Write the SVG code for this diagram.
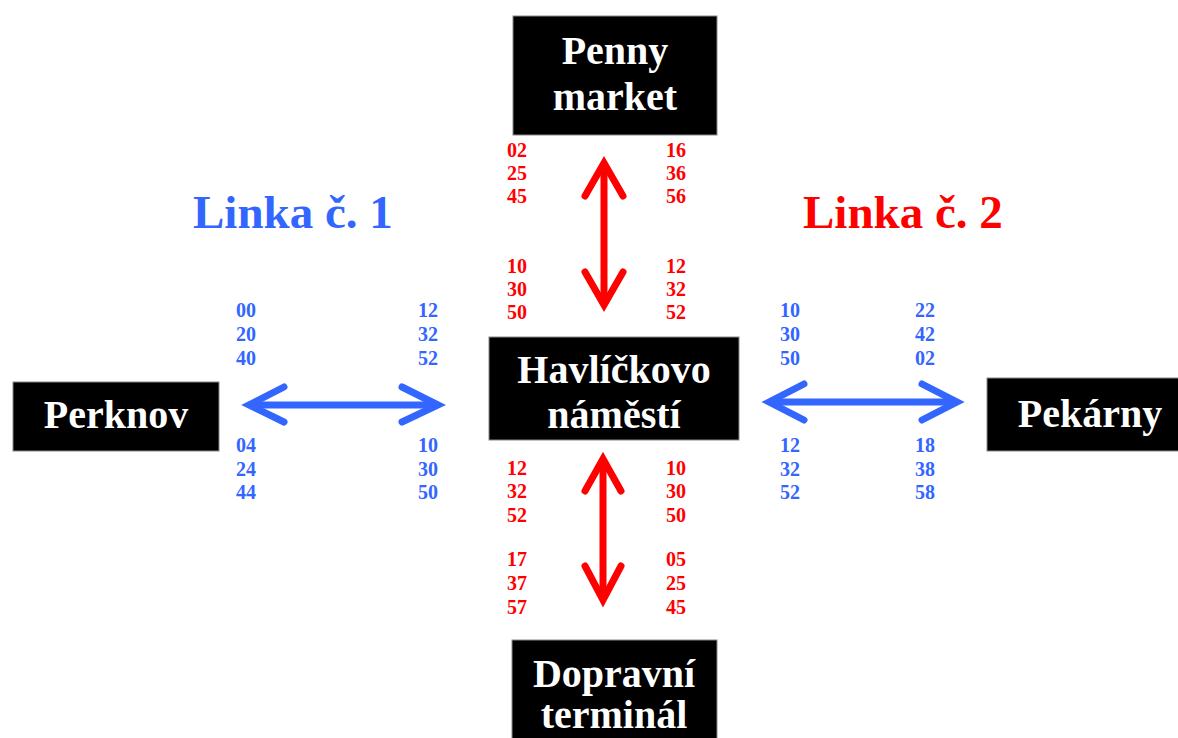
<svg xmlns="http://www.w3.org/2000/svg" width="1178" height="738" viewBox="0 0 1178 738">
<style>
.box{fill:#000;stroke:#888;stroke-width:1}
.nt{font-family:"Liberation Serif",serif;font-weight:bold;font-size:40px;fill:#fff;text-anchor:middle}
.num{font-family:"Liberation Serif",serif;font-weight:bold;font-size:20px}
.r{fill:#ff0000}
.b{fill:#3366ff}
.title{font-family:"Liberation Serif",serif;font-weight:bold;font-size:47px}
.ar{fill:none;stroke-width:7;stroke-linecap:round;stroke-linejoin:miter}
.ared{stroke:#ff0000}
.ablue{stroke:#3366ff}
</style>
<rect width="1178" height="738" fill="#fff"/>
<g id="penny">
<rect class="box" x="513" y="16" width="204" height="119"/>
<text class="nt" x="615" y="64">Penny</text>
<text class="nt" x="615" y="110">market</text>
</g>
<g id="havlickovo">
<rect class="box" x="489" y="337" width="250" height="103"/>
<text class="nt" x="614" y="383">Havlíčkovo</text>
<text class="nt" x="614" y="428">náměstí</text>
</g>
<g id="perknov">
<rect class="box" x="13" y="382" width="206" height="69"/>
<text class="nt" x="116" y="428">Perknov</text>
</g>
<g id="pekarny">
<rect class="box" x="987" y="378" width="200" height="73"/>
<text class="nt" x="1090" y="427">Pekárny</text>
</g>
<g id="dopravni">
<rect class="box" x="512" y="640" width="205" height="110"/>
<text class="nt" x="614" y="687">Dopravní</text>
<text class="nt" x="614" y="728">terminál</text>
</g>
<g id="connectors">
<line class="ar ared" x1="604" y1="166" x2="604" y2="302"/>
<polyline class="ar ared" points="585,196 604,163 623,196"/>
<polyline class="ar ared" points="585,272 604,305 623,272"/>
<line class="ar ared" x1="603" y1="462" x2="603" y2="597"/>
<polyline class="ar ared" points="585,491 603,459 621,491"/>
<polyline class="ar ared" points="585,566 603,600 621,566"/>
<line class="ar ablue" x1="252" y1="405" x2="435" y2="405"/>
<polyline class="ar ablue" points="284,387 249,405 284,422"/>
<polyline class="ar ablue" points="402,387 438,405 402,422"/>
<line class="ar ablue" x1="772" y1="402" x2="954" y2="402"/>
<polyline class="ar ablue" points="804,384 769,402 804,420"/>
<polyline class="ar ablue" points="922,384 957,402 922,420"/>
</g>
<g id="titles">
<text class="title b" x="193" y="228">Linka č. 1</text>
<text class="title r" x="803" y="228">Linka č. 2</text>
</g>
<g id="times">
<g class="num r">
<text x="507" y="157">02</text><text x="507" y="180">25</text><text x="507" y="203">45</text>
<text x="666" y="157">16</text><text x="666" y="180">36</text><text x="666" y="203">56</text>
<text x="507" y="273">10</text><text x="507" y="296">30</text><text x="507" y="319">50</text>
<text x="666" y="273">12</text><text x="666" y="296">32</text><text x="666" y="319">52</text>
<text x="507" y="475">12</text><text x="507" y="498">32</text><text x="507" y="522">52</text>
<text x="666" y="475">10</text><text x="666" y="498">30</text><text x="666" y="522">50</text>
<text x="507" y="566">17</text><text x="507" y="590">37</text><text x="507" y="614">57</text>
<text x="666" y="566">05</text><text x="666" y="590">25</text><text x="666" y="614">45</text>
</g>
<g class="num b">
<text x="236" y="317">00</text><text x="236" y="341">20</text><text x="236" y="365">40</text>
<text x="418" y="317">12</text><text x="418" y="341">32</text><text x="418" y="365">52</text>
<text x="236" y="452">04</text><text x="236" y="476">24</text><text x="236" y="499">44</text>
<text x="418" y="452">10</text><text x="418" y="476">30</text><text x="418" y="499">50</text>
<text x="780" y="317">10</text><text x="780" y="341">30</text><text x="780" y="365">50</text>
<text x="915" y="317">22</text><text x="915" y="341">42</text><text x="915" y="365">02</text>
<text x="780" y="452">12</text><text x="780" y="476">32</text><text x="780" y="499">52</text>
<text x="915" y="452">18</text><text x="915" y="476">38</text><text x="915" y="499">58</text>
</g>
</g>
</svg>
